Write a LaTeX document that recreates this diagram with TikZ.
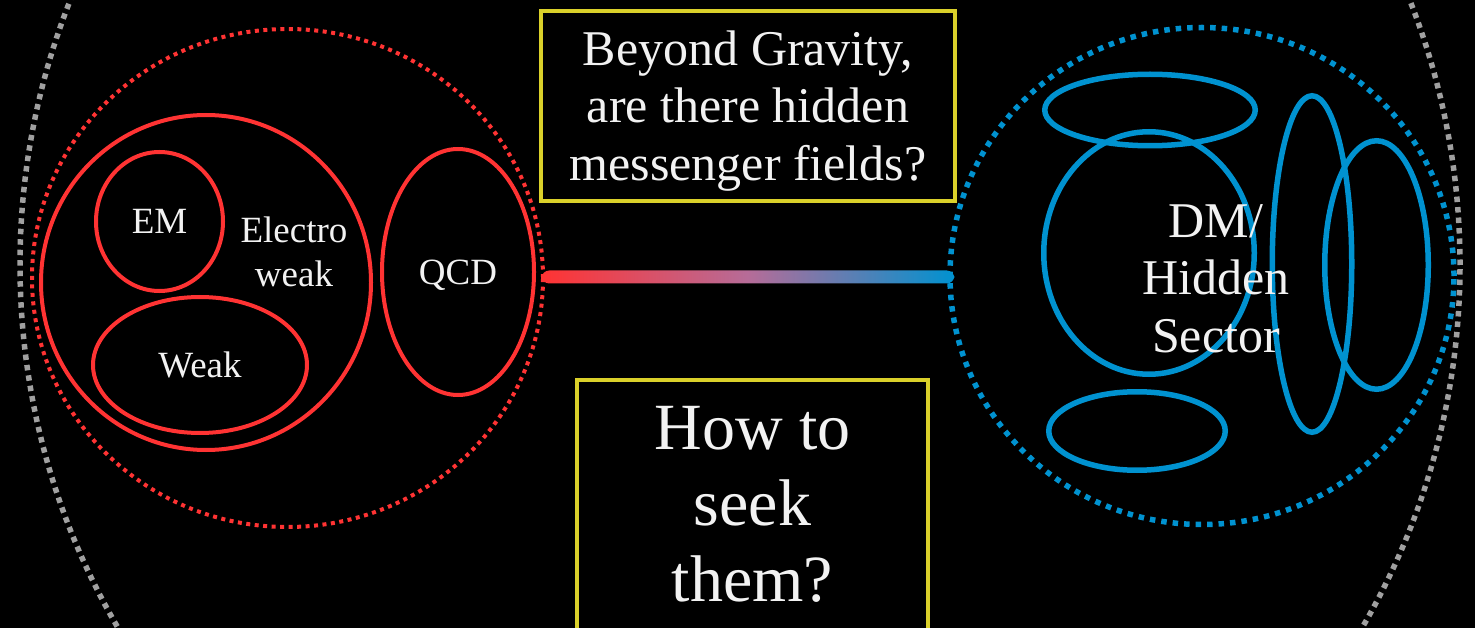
\documentclass[tikz,border=0pt]{standalone}
\usepackage{fontspec}
\setmainfont{Liberation Serif}
\usetikzlibrary{shapes.geometric,calc}
\definecolor{smred}{RGB}{255,51,51}
\definecolor{hsblue}{RGB}{0,146,208}
\definecolor{unigray}{RGB}{160,160,160}
\definecolor{yboxc}{RGB}{218,208,42}
\definecolor{txt}{RGB}{242,242,242}
\definecolor{midc}{RGB}{182,108,152}
\begin{document}
\begin{tikzpicture}[x=1pt,y=-1pt,
  redring/.style={ellipse, draw=smred, line width=4pt, inner sep=0pt, text=txt, text depth=0pt, font=\fontsize{37}{44}\selectfont},
  bluering/.style={ellipse, draw=hsblue, line width=5.5pt, inner sep=0pt},
  smdots/.style={ellipse, draw=smred, line width=4pt, dash pattern=on 4pt off 4.5pt, inner sep=0pt},
  hsdots/.style={ellipse, draw=hsblue, line width=5.5pt, dash pattern=on 5.5pt off 6pt, inner sep=0pt},
  unidots/.style={circle, draw=unigray, line width=5.5pt, dash pattern=on 5.5pt off 5pt, inner sep=0pt},
  ybox/.style={rectangle, draw=yboxc, line width=4pt, inner sep=0pt},
  lbl/.style={text=txt, inner sep=0pt, align=center}]
\useasboundingbox (0,0) rectangle (1475,628);
\clip (0,0) rectangle (1475,628);
\fill[black] (0,0) rectangle (1475,628);

% outer universe circle
\node[unidots, minimum size=1440pt] (uni) at (740,265) {};

% Standard Model side
\node[smdots, minimum width=511pt, minimum height=498pt] (sm) at (287.5,278) {};
\node[redring, minimum width=330pt, minimum height=335pt] (ew) at (206,282.5) {};
\node[redring, minimum width=127pt, minimum height=139pt] (em) at (159.5,221.5) {EM};
\node[redring, minimum width=214pt, minimum height=136pt] (weak) at (200,365) {Weak};
\node[redring, minimum width=152pt, minimum height=246pt] (qcd) at (458,272) {QCD};
\node[lbl, font=\fontsize{37}{44}\selectfont] (ewl) at (294,251.5) {Electro\\weak};

% Hidden sector side
\node[hsdots, minimum width=504pt, minimum height=497pt] (hs) at (1202,276) {};
\node[bluering, minimum width=210.5pt, minimum height=71.5pt] (b1) at (1150,110) {};
\node[bluering, minimum width=210.5pt, minimum height=242.5pt] (b2) at (1149,253) {};
\node[bluering, minimum width=176.5pt, minimum height=78.5pt] (b3) at (1137,431) {};
\node[bluering, minimum width=79.5pt, minimum height=336.5pt] (b4) at (1312,264) {};
\node[bluering, minimum width=103.5pt, minimum height=248.5pt] (b5) at (1376.5,265) {};
\node[lbl, font=\fontsize{50}{57.5}\selectfont] (dm) at (1216,278.5) {DM/\\Hidden\\Sector};

% messenger bar
\shade[left color=smred, right color=hsblue, middle color=midc, rounded corners=7.5pt]
  ($(sm.east)+(-3.25,-7.5)$) rectangle ($(hs.west)+(7,7.5)$);

% question boxes
\node[ybox, minimum width=414pt, minimum height=190pt] (qbox) at (748,106) {};
\node[lbl, font=\fontsize{50}{57.5}\selectfont] (qtext) at (748,111) {Beyond Gravity,\\are there hidden\\messenger fields?};
\node[ybox, minimum width=351pt, minimum height=300pt] (hbox) at (752.5,530) {};
\node[lbl, font=\fontsize{66}{76}\selectfont] (htext) at (752.5,504) {How to\\seek\\them?};
\end{tikzpicture}
\end{document}
